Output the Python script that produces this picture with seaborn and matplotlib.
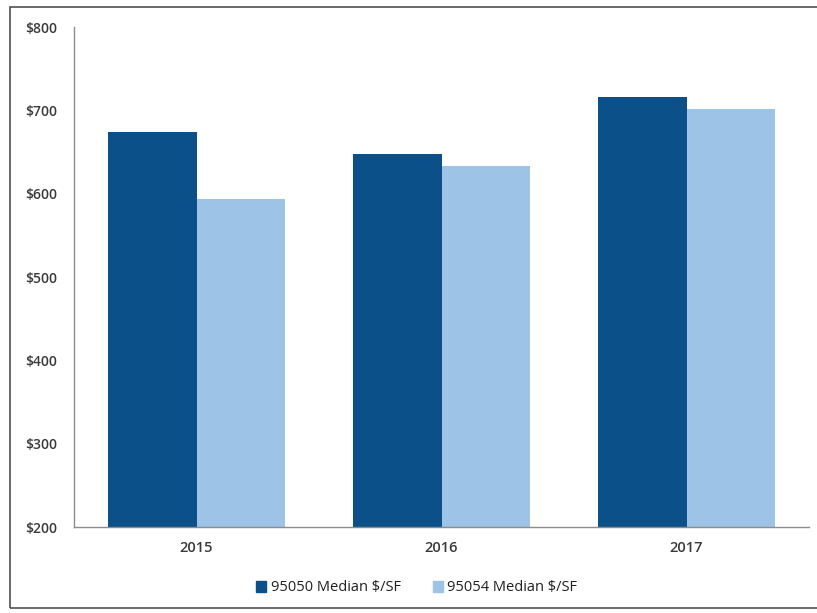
import pandas as pd
import matplotlib.pyplot as plt
import seaborn as sns
from matplotlib.patches import Rectangle

# Values
years = ['2015', '2016', '2017']
median_95050 = [674, 648, 716]
median_95054 = [594, 633, 702]
series_names = ['95050 Median $/SF', '95054 Median $/SF']
y_ticks = [200, 300, 400, 500, 600, 700, 800]

df = pd.DataFrame({
    'year': years * 2,
    'value': median_95050 + median_95054,
    'series': [series_names[0]] * 3 + [series_names[1]] * 3,
})

sns.set_style('white')
plt.rcParams['font.family'] = ['Open Sans', 'DejaVu Sans']

fig = plt.figure(figsize=(8.17, 6.13), dpi=100)
ax = fig.add_axes([74 / 817, 86 / 613, (809 - 74) / 817, (527 - 27) / 613])

palette = {series_names[0]: '#0b5088', series_names[1]: '#9dc3e6'}
sns.barplot(data=df, x='year', y='value', hue='series', palette=palette,
            width=0.72, gap=0, saturation=1, ax=ax, edgecolor='none',
            legend=False)

ax.set_ylim(200, 800)
ax.set_yticks(y_ticks)
ax.set_yticklabels([f'${v}' for v in y_ticks], fontsize=10, color='#3a3a3a',
                   fontweight='semibold')
for lbl in ax.get_xticklabels():
    lbl.set_fontweight('semibold')
ax.tick_params(axis='x', labelsize=10.5, colors='#3a3a3a', length=0, pad=10)
ax.tick_params(axis='y', length=0, pad=12)
ax.set_xlabel('')
ax.set_ylabel('')

for side in ['top', 'right']:
    ax.spines[side].set_visible(False)
for side in ['left', 'bottom']:
    ax.spines[side].set_color('#8c8c8c')
    ax.spines[side].set_linewidth(1)

handles = [Rectangle((0, 0), 1, 1, color=palette[s]) for s in series_names]
leg = fig.legend(handles, series_names, loc='center',
                 bbox_to_anchor=(0.51, 1 - 588 / 613), ncol=2, frameon=False,
                 fontsize=10.5, handlelength=0.7, handleheight=0.7,
                 handletextpad=0.3, columnspacing=2.2)
for t in leg.get_texts():
    t.set_color('#202020')

# outer frame of the chart area
fig.patches.append(Rectangle((10 / 817, 5 / 613), 1.0, 601 / 613,
                             transform=fig.transFigure, fill=False,
                             edgecolor='#505050', linewidth=1.2))

fig.savefig('out.png', dpi=100)
